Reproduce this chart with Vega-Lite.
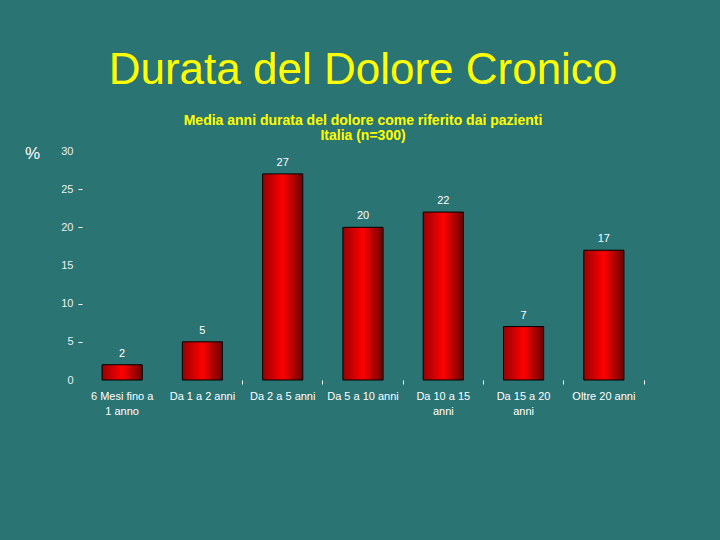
{
  "$schema": "https://vega.github.io/schema/vega-lite/v6.json",
  "width": 562,
  "height": 229,
  "autosize": {"type": "none"},
  "padding": {"left": 82, "top": 151, "right": 76, "bottom": 160},
  "background": "#2b7474",
  "config": {
    "view": {"stroke": null},
    "font": "Liberation Sans"
  },
  "title": {
    "text": "Durata del Dolore Cronico",
    "subtitle": ["Media anni durata del dolore come riferito dai pazienti", "Italia (n=300)"],
    "anchor": "middle",
    "fontSize": 44,
    "fontWeight": "normal",
    "color": "#ffff00",
    "subtitleColor": "#ffff00",
    "subtitleFontSize": 14,
    "subtitleFontWeight": "bold",
    "subtitlePadding": 21,
    "subtitleLineHeight": 15,
    "offset": 1
  },
  "data": {
    "values": [
      {"durata": "6 Mesi fino a 1 anno", "perc": 2},
      {"durata": "Da 1 a 2 anni", "perc": 5},
      {"durata": "Da 2 a 5 anni", "perc": 27},
      {"durata": "Da 5 a 10 anni", "perc": 20},
      {"durata": "Da 10 a 15 anni", "perc": 22},
      {"durata": "Da 15 a 20 anni", "perc": 7},
      {"durata": "Oltre 20 anni", "perc": 17}
    ]
  },
  "encoding": {
    "x": {
      "field": "durata",
      "type": "nominal",
      "sort": null,
      "scale": {"paddingInner": 0.5, "paddingOuter": 0.25},
      "axis": {
        "title": null,
        "labelAngle": 0,
        "labelColor": "white",
        "labelFontSize": 11,
        "labelPadding": 6,
        "labelLineHeight": 15,
        "labelBaseline": "top",
        "labelExpr": "datum.label == '6 Mesi fino a 1 anno' ? ['6 Mesi fino a', '1 anno'] : datum.label == 'Da 10 a 15 anni' ? ['Da 10 a 15', 'anni'] : datum.label == 'Da 15 a 20 anni' ? ['Da 15 a 20', 'anni'] : datum.label",
        "domain": false,
        "tickColor": {"condition": {"test": "datum.value === '6 Mesi fino a 1 anno'", "value": "transparent"}, "value": "white"},
        "tickSize": 4,
        "bandPosition": 1.5
      }
    },
    "y": {
      "field": "perc",
      "type": "quantitative",
      "scale": {"domain": [0, 30]},
      "axis": {
        "title": "%",
        "titleAngle": 0,
        "titleX": -50,
        "titleY": 2,
        "titleAlign": "center",
        "titleBaseline": "middle",
        "titleColor": "white",
        "titleFontSize": 17,
        "titleFontWeight": "normal",
        "values": [0, 5, 10, 15, 20, 25, 30],
        "labelColor": "#e8f0f0",
        "labelFontSize": 11,
        "labelPadding": 5,
        "domain": false,
        "grid": false,
        "tickSize": 4,
        "tickColor": {"condition": {"test": "datum.value % 15 === 0", "value": "transparent"}, "value": "white"}
      }
    }
  },
  "layer": [
    {
      "mark": {
        "type": "bar",
        "stroke": "black",
        "strokeWidth": 1,
        "color": {
          "gradient": "linear",
          "x1": 0, "y1": 0, "x2": 1, "y2": 0,
          "stops": [
            {"offset": 0, "color": "#9a0000"},
            {"offset": 0.5, "color": "#ff0000"},
            {"offset": 1, "color": "#6a0000"}
          ]
        }
      }
    },
    {
      "mark": {"type": "text", "color": "white", "fontSize": 11, "baseline": "bottom", "dy": -6},
      "encoding": {"text": {"field": "perc", "type": "quantitative"}}
    }
  ]
}
